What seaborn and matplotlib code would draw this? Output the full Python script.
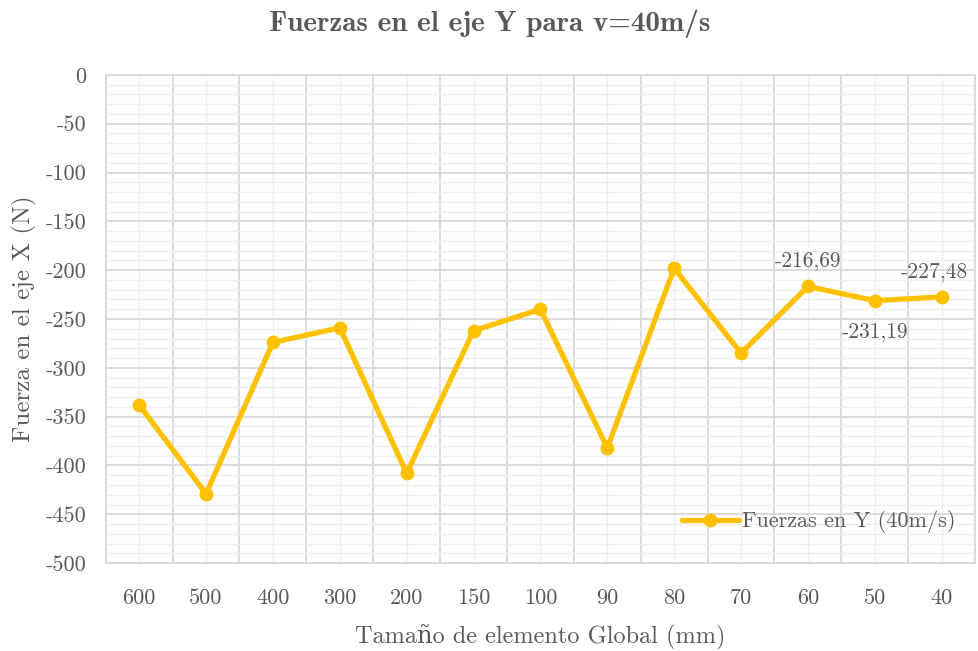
import numpy as np
import matplotlib
matplotlib.use("Agg")
import matplotlib.pyplot as plt
import seaborn as sns
from matplotlib.ticker import MultipleLocator

# ----------------------------------------
# Data
# ----------------------------------------
sizes = ["600", "500", "400", "300", "200", "150", "100", "90", "80", "70", "60", "50", "40"]
forces_y = [-338, -429, -274, -259, -408, -262, -240, -382, -198, -285, -216.69, -231.19, -227.48]
labelled = {"60": "-216,69", "50": "-231,19", "40": "-227,48"}

# ----------------------------------------
# Style
# ----------------------------------------
sns.set_style("white")
plt.rcParams["font.family"] = ["cmr10", "DejaVu Serif"]
plt.rcParams["axes.unicode_minus"] = False
text_color = "#595959"
line_color = "#FFC000"

fig = plt.figure(figsize=(9.79, 6.51), dpi=100)
ax = fig.add_axes([0.108, 0.135, 0.888, 0.75])

pos = np.arange(len(sizes))
sns.lineplot(
    x=pos,
    y=forces_y,
    color=line_color,
    linewidth=3.8,
    marker="o",
    markersize=10,
    markeredgewidth=0,
    label="Fuerzas en Y (40m/s)",
    ax=ax,
)

# data labels
offsets = {"60": (0, 14), "50": (0, -27), "40": (-5, 14)}
for name, txt in labelled.items():
    i = sizes.index(name)
    ax.annotate(txt, (pos[i], forces_y[i]), xytext=offsets[name],
                textcoords="offset points", ha="center", fontsize=15.5,
                color=text_color)

# ----------------------------------------
# Axes and grid
# ----------------------------------------
ax.set_xlim(-0.5, len(sizes) - 0.5)
ax.set_ylim(-500, 0)
ax.set_xticks(pos)
ax.set_xticklabels(sizes)
ax.set_xticks(np.arange(len(sizes) + 1) - 0.5, minor=True)
ax.yaxis.set_minor_locator(MultipleLocator(10))
ax.set_yticks(np.arange(-500, 1, 50))
ax.set_yticklabels([str(v) for v in range(-500, 1, 50)])

ax.grid(which="major", axis="y", color="#D9D9D9", linewidth=1.3)
ax.grid(which="minor", axis="y", color="#EFEFEF", linewidth=1.0)
ax.grid(which="minor", axis="x", color="#D9D9D9", linewidth=1.3)
ax.grid(which="major", axis="x", color="#EFEFEF", linewidth=1.0)
ax.set_axisbelow(True)

ax.tick_params(which="both", length=0, labelsize=16, colors=text_color)
ax.tick_params(axis="x", pad=18)
ax.tick_params(axis="y", pad=14)
for side in ["top", "right", "left", "bottom"]:
    ax.spines[side].set_color("#D9D9D9")
    ax.spines[side].set_linewidth(1.3)

ax.set_xlabel("Tamaño de elemento Global (mm)", fontsize=17.5, color=text_color, labelpad=12)
ax.set_ylabel("Fuerza en el eje X (N)", fontsize=18, color=text_color, labelpad=6)
fig.suptitle("Fuerzas en el eje Y para v=40m/s", fontsize=21, color=text_color,
             fontweight="bold", family=["cmb10", "DejaVu Serif"], y=0.985)

leg = ax.legend(loc="lower right", frameon=False, fontsize=16, handlelength=2.6,
                handletextpad=0.1, bbox_to_anchor=(1.0, 0.02))
for t in leg.get_texts():
    t.set_color(text_color)

fig.savefig("out.png", dpi=100)
